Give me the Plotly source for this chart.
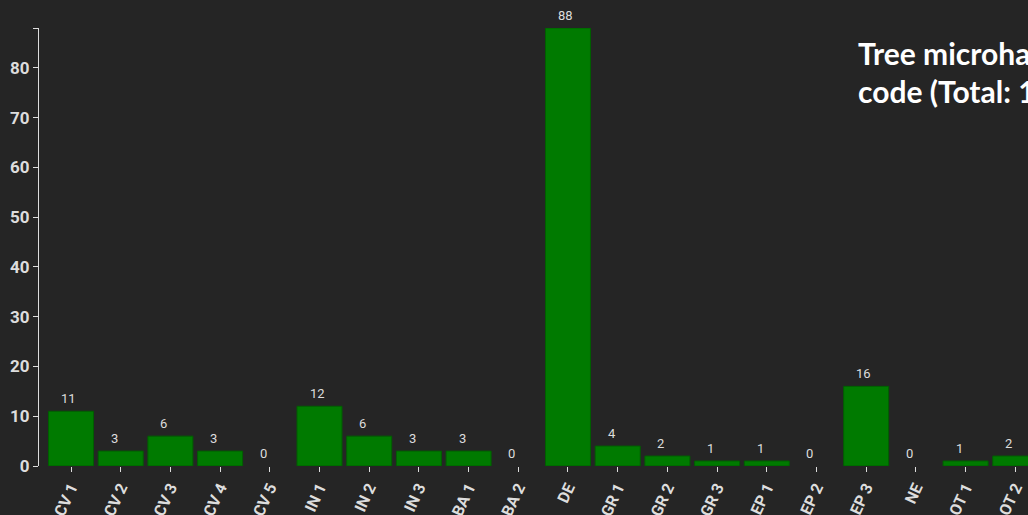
import plotly.graph_objects as go

# Microhabitat codes and their tree counts
codes = ["CV 1", "CV 2", "CV 3", "CV 4", "CV 5",
         "IN 1", "IN 2", "IN 3", "BA 1", "BA 2",
         "DE", "GR 1", "GR 2", "GR 3", "EP 1",
         "EP 2", "EP 3", "NE", "OT 1", "OT 2"]
counts = [11, 3, 6, 3, 0,
          12, 6, 3, 3, 0,
          88, 4, 2, 1, 1,
          0, 16, 0, 1, 2]
y_ticks = [0, 10, 20, 30, 40, 50, 60, 70, 80, 88]
y_tick_text = ["0", "10", "20", "30", "40", "50", "60", "70", "80", ""]

total = sum(counts)
title_lines = ["Tree microhabitats per", f"code (Total: {total})"]

BG = "#252525"
TEXT = "#dddddd"

fig = go.Figure()
fig.add_trace(go.Bar(
    x=list(range(len(codes))),
    y=counts,
    marker=dict(
        color="#007a00",
        # no outline on empty bars, so nothing is drawn for a zero count
        line=dict(color="#005f00", width=[1 if v else 0 for v in counts]),
    ),
    hoverinfo="x+y",
))

# value labels above each bar
for i, v in enumerate(counts):
    fig.add_annotation(
        x=i, y=v, xref="x", yref="y",
        text=str(v), showarrow=False,
        xanchor="left", yanchor="bottom",
        xshift=-12, yshift=3,
        font=dict(family="Roboto", size=13, color=TEXT),
    )

# two-line heading at the top right
for line, ypos in zip(title_lines, [0.943, 0.857]):
    fig.add_annotation(
        x=0.826, y=ypos, xref="paper", yref="paper",
        text=f"<b>{line}</b>", showarrow=False,
        xanchor="left", yanchor="middle", align="left",
        font=dict(family="Lato", size=30, color="#ffffff"),
    )

fig.update_layout(
    width=1028, height=515,
    margin=dict(l=39, r=0, t=28, b=49, pad=0),
    paper_bgcolor=BG, plot_bgcolor=BG,
    bargap=0.095,
    showlegend=False,
    font=dict(family="Roboto", color=TEXT),
)
fig.update_xaxes(
    range=[-0.644, 19.256],
    tickmode="array",
    tickvals=list(range(len(codes))),
    ticktext=[f"<b>{c}</b>" for c in codes],
    tickangle=-65,
    ticks="outside", ticklen=5, tickwidth=1, tickcolor=TEXT,
    tickfont=dict(family="Roboto", size=16, color=TEXT),
    showline=False, showgrid=False, zeroline=False,
    automargin=False,
)
fig.update_yaxes(
    range=[0, 88],
    tickmode="array",
    tickvals=y_ticks,
    ticktext=[f"<b>{t}</b>" for t in y_tick_text],
    ticks="outside", ticklen=5, tickwidth=1, tickcolor=TEXT,
    tickfont=dict(family="Roboto", size=17, color=TEXT),
    showline=True, linecolor=TEXT, linewidth=1,
    showgrid=False, zeroline=False,
    automargin=False,
)

fig.write_html("out.html")
